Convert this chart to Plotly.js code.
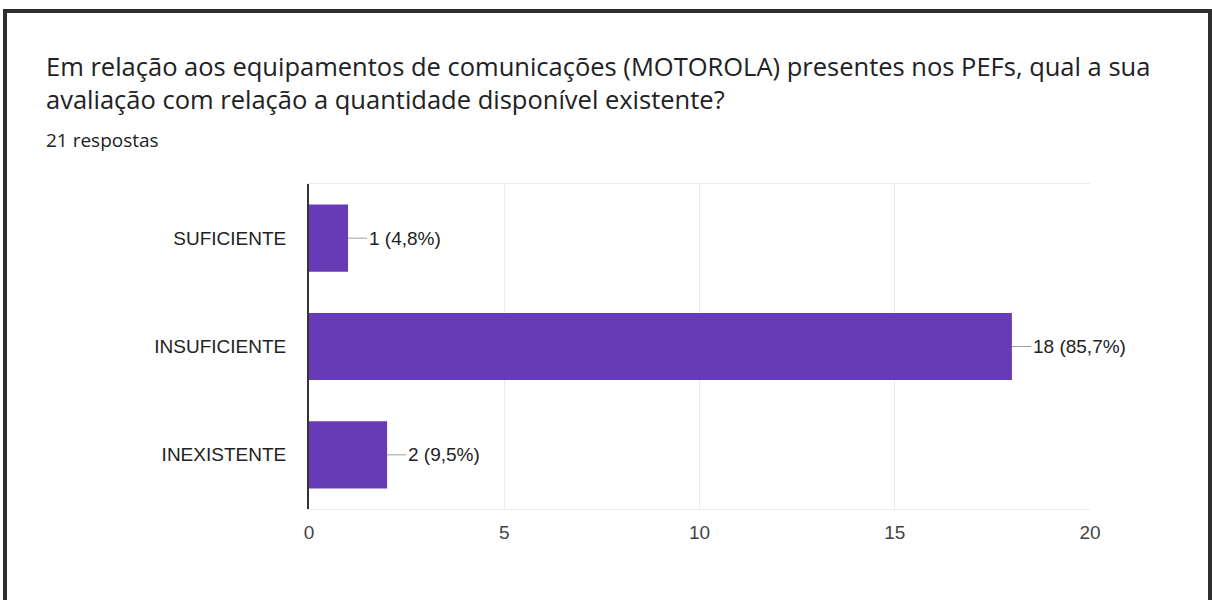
<!DOCTYPE html>
<html>
<head>
<meta charset="utf-8">
<script src="https://cdn.plot.ly/plotly-3.0.1.min.js"></script>
<style>
  html, body { margin: 0; padding: 0; background: #ffffff; }
  #wrap { position: relative; width: 1212px; height: 600px; overflow: hidden; }
  #chart { position: absolute; left: 0; top: 0; width: 1212px; height: 600px; }
  #frame { position: absolute; left: 3px; top: 9px; width: 1201px; height: 700px;
           border: 4px solid #2e2e2e; pointer-events: none; }
</style>
</head>
<body>
<div id="wrap">
  <div id="chart"></div>
  <div id="frame"></div>
</div>
<script>
const categories = ["SUFICIENTE", "INSUFICIENTE", "INEXISTENTE"];
const counts = [1, 18, 2];
const valueLabels = ["1 (4,8%)", "18 (85,7%)", "2 (9,5%)"];
const xTicks = [0, 5, 10, 15, 20];
const titleText = "Em relação aos equipamentos de comunicações (MOTOROLA) presentes nos PEFs, qual a sua<br>avaliação com relação a quantidade disponível existente?";
const subtitleText = "21 respostas";

const labelFont = "Liberation Sans, Arial, sans-serif";

const trace = {
  type: "bar",
  orientation: "h",
  y: categories,
  x: counts,
  marker: { color: "#673ab7" },
  width: 0.62,
  hoverinfo: "skip"
};

const annotations = categories.map((c, i) => ({
  x: counts[i], y: c, xref: "x", yref: "y",
  text: valueLabels[i],
  showarrow: true, arrowhead: 0, arrowwidth: 1, arrowcolor: "#9e9e9e",
  ax: 19, ay: 0, xanchor: "left", yanchor: "middle",
  font: { family: labelFont, size: 19, color: "#222222" }
}));

annotations.push({
  text: subtitleText, xref: "paper", yref: "paper",
  x: (44 - 309) / (1090 - 309), y: 1 + (184 - 140) / 325,
  xanchor: "left", yanchor: "middle", showarrow: false,
  font: { family: "Open Sans, sans-serif", size: 19, color: "#202124" }
});

const layout = {
  width: 1212, height: 600,
  margin: { l: 309, r: 122, t: 184, b: 91 },
  paper_bgcolor: "#ffffff", plot_bgcolor: "#ffffff",
  showlegend: false,
  bargap: 0.38,
  title: {
    text: titleText,
    x: 46 / 1212, xanchor: "left",
    y: 1 - 76 / 600, yanchor: "top", yref: "container",
    font: { family: "Open Sans, sans-serif", size: 25.5, color: "#202124" }
  },
  xaxis: {
    range: [0, 20],
    tickvals: xTicks,
    ticktext: xTicks.map(String),
    showgrid: true, gridcolor: "#ebebeb", gridwidth: 1,
    zeroline: false,
    showline: true, linecolor: "#ebebeb", linewidth: 1, mirror: true,
    ticks: "", ticklen: 0,
    ticklabelstandoff: 6,
    tickfont: { family: labelFont, size: 19, color: "#444444" },
    fixedrange: true
  },
  yaxis: {
    autorange: "reversed",
    showgrid: false, zeroline: false,
    showline: true, linecolor: "#333333", linewidth: 2,
    ticks: "", ticklen: 0,
    ticklabelstandoff: 17,
    tickfont: { family: labelFont, size: 19, color: "#222222" },
    fixedrange: true
  },
  annotations: annotations
};

Plotly.newPlot("chart", [trace], layout, { displayModeBar: false, staticPlot: true });
</script>
</body>
</html>
